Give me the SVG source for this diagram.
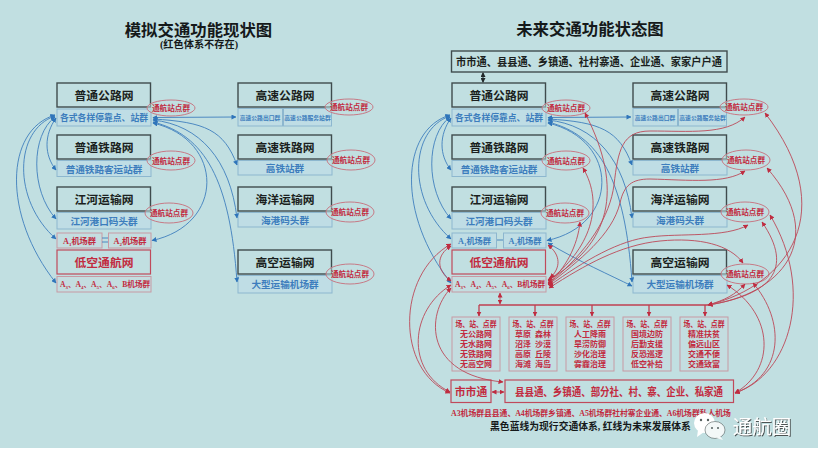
<svg xmlns="http://www.w3.org/2000/svg" width="818" height="463" viewBox="0 0 818 463">
<style>
text{font-family:"Liberation Serif","Noto Sans CJK SC",serif;font-weight:700;text-anchor:middle}
.k{fill:none;stroke:#3f4b4d;stroke-width:1.4}
.bb{fill:#bfdde5;stroke:#8db7cf;stroke-width:1}
.rb{fill:#c4dde0;stroke:#c79aa4;stroke-width:1}
.rk{fill:none;stroke:#c04a5b;stroke-width:1.2}
.e{fill:#c2dfe1;fill-opacity:.5;stroke:#c77a86;stroke-width:1}
.tk{fill:#1b1f20;font-size:11.800px}
.tb{fill:#3d7dbd;font-size:9.600px}
.tb2{fill:#3d7dbd;font-size:5.800px}
.tr{fill:#c22b40;font-size:8.200px}
.te{fill:#c22b40;font-size:7.600px}
.tm{fill:#c22b40;font-size:8px}
.s{font-size:5px}
.c{fill:none;stroke-width:.9}
.b{stroke:#3f7fbd}
.r{stroke:#bc4858}
.rr{fill:none;stroke:#bf3f50;stroke-width:1.3}
</style>
<defs>
<marker id="ab" markerWidth="5" markerHeight="5" refX="4.500" refY="2.500" orient="auto-start-reverse" markerUnits="userSpaceOnUse"><path d="M0 0L5 2.500L0 5z" fill="#2f75ba"/></marker>
<marker id="ar" markerWidth="5" markerHeight="5" refX="4.500" refY="2.500" orient="auto-start-reverse" markerUnits="userSpaceOnUse"><path d="M0 0L5 2.500L0 5z" fill="#bf2c40"/></marker>
<marker id="ak" markerWidth="5" markerHeight="5" refX="4" refY="2.500" orient="auto-start-reverse" markerUnits="userSpaceOnUse"><path d="M0 0L5 2.500L0 5z" fill="#22282a"/></marker>
<filter id="sh" x="-10%" y="-10%" width="125%" height="125%"><feDropShadow dx="1" dy="1" stdDeviation=".5" flood-color="#333" flood-opacity=".8"/></filter>
</defs>
<rect width="818" height="463" fill="#fff"/>
<rect width="818" height="448" fill="#c1dfe1"/>

<text x="198.500" y="36" font-size="16.400" fill="#15191a">模拟交通功能现状图</text>
<text x="199" y="48" font-size="10.200" fill="#15191a">(红色体系不存在)</text>
<text x="590" y="35" font-size="16.400" fill="#15191a">未来交通功能状态图</text>

<g id="left-nodes">
<g id="l-road"><rect class="k" x="57" y="83" width="93.500" height="24"/><text class="tk" x="104" y="99.500">普通公路网</text><rect class="bb" x="57" y="109" width="94" height="17"/><text class="tb" x="104" y="121" style="font-size:9.200px" textLength="88" lengthAdjust="spacingAndGlyphs">各式各样停靠点、站群</text></g>
<g id="l-rail"><rect class="k" x="57" y="135" width="93.500" height="24"/><text class="tk" x="104" y="151.500">普通铁路网</text><rect class="bb" x="57" y="160.500" width="94" height="16"/><text class="tb" x="104" y="172.500">普通铁路客运站群</text></g>
<g id="l-river"><rect class="k" x="57" y="187" width="93.500" height="24"/><text class="tk" x="104" y="203.500">江河运输网</text><rect class="bb" x="57" y="212.500" width="94" height="16.500"/><text class="tb" x="104" y="224.500">江河港口码头群</text></g>
<g id="l-a1"><rect class="rb" x="57" y="233" width="45" height="15"/><text class="tr" x="79.500" y="243.500">A<tspan class="s" dy="2">1</tspan><tspan dy="-2">机场群</tspan></text></g>
<g id="l-a2"><rect class="rb" x="108.500" y="233" width="42.500" height="15"/><text class="tr" x="130" y="243.500">A<tspan class="s" dy="2">2</tspan><tspan dy="-2">机场群</tspan></text></g>
<g id="l-low"><rect class="rk" x="57" y="250" width="93.500" height="24"/><text class="tk" x="104" y="266.500" style="fill:#c22b40">低空通航网</text></g>
<g id="l-a3"><rect class="rb" x="57" y="276.500" width="94" height="15.500"/><text class="tr" x="105" y="287" style="font-size:7.600px">A<tspan class="s" dy="2">3</tspan><tspan dy="-2">、A</tspan><tspan class="s" dy="2">4</tspan><tspan dy="-2">、A</tspan><tspan class="s" dy="2">5</tspan><tspan dy="-2">、A</tspan><tspan class="s" dy="2">6</tspan><tspan dy="-2">、B机场群</tspan></text></g>
<g id="l-hw"><rect class="k" x="238" y="83" width="93.500" height="24"/><text class="tk" x="285" y="99.500">高速公路网</text><rect class="bb" x="238" y="108.500" width="44.500" height="17.500"/><rect class="bb" x="283.500" y="108.500" width="48" height="17.500"/><text class="tb2" x="260" y="119.500">高速公路出口群</text><text class="tb2" x="307.500" y="119.500">高速公路服务站群</text></g>
<g id="l-hr"><rect class="k" x="238" y="135" width="93.500" height="24"/><text class="tk" x="285" y="151.500">高速铁路网</text><rect class="bb" x="238" y="160.500" width="94" height="14.500"/><text class="tb" x="285" y="171.500">高铁站群</text></g>
<g id="l-sea"><rect class="k" x="238" y="187" width="93.500" height="24"/><text class="tk" x="285" y="203.500">海洋运输网</text><rect class="bb" x="238" y="212.500" width="94" height="14.500"/><text class="tb" x="285" y="223.500">海港码头群</text></g>
<g id="l-air"><rect class="k" x="238" y="250" width="93.500" height="24"/><text class="tk" x="285" y="266.500">高空运输网</text><rect class="bb" x="238" y="275.500" width="94" height="17.500"/><text class="tb" x="285" y="288">大型运输机场群</text></g>
<g id="l-e1"><ellipse class="e" cx="171" cy="108" rx="24" ry="8"/><text class="te" x="171" y="110.500">通航站点群</text></g>
<g id="l-e2"><ellipse class="e" cx="171" cy="160.500" rx="24" ry="9.500"/><text class="te" x="171" y="163.500">通航站点群</text></g>
<g id="l-e3"><ellipse class="e" cx="169" cy="213" rx="24" ry="10"/><text class="te" x="169" y="215.500">通航站点群</text></g>
<g id="l-e4"><ellipse class="e" cx="349" cy="107" rx="24" ry="8"/><text class="te" x="349" y="109.500">通航站点群</text></g>
<g id="l-e5"><ellipse class="e" cx="351" cy="160" rx="24" ry="10"/><text class="te" x="351" y="163">通航站点群</text></g>
<g id="l-e6"><ellipse class="e" cx="350" cy="212" rx="24" ry="10"/><text class="te" x="350" y="215">通航站点群</text></g>
<g id="l-e7"><ellipse class="e" cx="350" cy="274" rx="24" ry="10"/><text class="te" x="350" y="277">通航站点群</text></g>
</g>

<g id="right-nodes">
<g id="r-top"><rect class="k" x="451.500" y="51" width="275.500" height="21"/><text class="tk" x="589" y="65.500" style="font-size:10.800px" textLength="266" lengthAdjust="spacingAndGlyphs">市市通、县县通、乡镇通、社村寨通、企业通、家家户户通</text></g>
<g id="r-road"><rect class="k" x="452" y="83" width="93.500" height="24"/><text class="tk" x="499" y="99.500">普通公路网</text><rect class="bb" x="452" y="109" width="94" height="17"/><text class="tb" x="499" y="121" style="font-size:9.200px" textLength="88" lengthAdjust="spacingAndGlyphs">各式各样停靠点、站群</text></g>
<g id="r-rail"><rect class="k" x="452" y="135" width="93.500" height="24"/><text class="tk" x="499" y="151.500">普通铁路网</text><rect class="bb" x="452" y="160.500" width="94" height="16"/><text class="tb" x="499" y="172.500">普通铁路客运站群</text></g>
<g id="r-river"><rect class="k" x="452" y="187" width="93.500" height="24"/><text class="tk" x="499" y="203.500">江河运输网</text><rect class="bb" x="452" y="212.500" width="94" height="16.500"/><text class="tb" x="499" y="224.500">江河港口码头群</text></g>
<g id="r-a1"><rect class="bb" x="452" y="233" width="44.500" height="15"/><text class="tr" x="474.500" y="243.500" style="fill:#3d7dbd">A<tspan class="s" dy="2">1</tspan><tspan dy="-2">机场群</tspan></text></g>
<g id="r-a2"><rect class="bb" x="503.500" y="233" width="42.500" height="15"/><text class="tr" x="525" y="243.500" style="fill:#3d7dbd">A<tspan class="s" dy="2">2</tspan><tspan dy="-2">机场群</tspan></text></g>
<g id="r-low"><rect class="rk" x="452" y="250" width="93.500" height="24"/><text class="tk" x="499" y="266.500" style="fill:#c22b40">低空通航网</text></g>
<g id="r-a3"><rect class="rb" x="452" y="276.500" width="94" height="15.500"/><text class="tr" x="500" y="287" style="font-size:7.600px">A<tspan class="s" dy="2">3</tspan><tspan dy="-2">、A</tspan><tspan class="s" dy="2">4</tspan><tspan dy="-2">、A</tspan><tspan class="s" dy="2">5</tspan><tspan dy="-2">、A</tspan><tspan class="s" dy="2">6</tspan><tspan dy="-2">、B机场群</tspan></text></g>
<g id="r-hw"><rect class="k" x="633" y="83" width="93.500" height="24"/><text class="tk" x="680" y="99.500">高速公路网</text><rect class="bb" x="633" y="108.500" width="44.500" height="17.500"/><rect class="bb" x="678.500" y="108.500" width="48" height="17.500"/><text class="tb2" x="655" y="119.500">高速公路出口群</text><text class="tb2" x="702.500" y="119.500">高速公路服务站群</text></g>
<g id="r-hr"><rect class="k" x="633" y="135" width="93.500" height="24"/><text class="tk" x="680" y="151.500">高速铁路网</text><rect class="bb" x="633" y="160.500" width="94" height="14.500"/><text class="tb" x="680" y="171.500">高铁站群</text></g>
<g id="r-sea"><rect class="k" x="633" y="187" width="93.500" height="24"/><text class="tk" x="680" y="203.500">海洋运输网</text><rect class="bb" x="633" y="212.500" width="94" height="14.500"/><text class="tb" x="680" y="223.500">海港码头群</text></g>
<g id="r-air"><rect class="k" x="633" y="250" width="93.500" height="24"/><text class="tk" x="680" y="266.500">高空运输网</text><rect class="bb" x="633" y="275.500" width="94" height="17.500"/><text class="tb" x="680" y="288">大型运输机场群</text></g>
<g id="r-e1"><ellipse class="e" cx="566" cy="108" rx="24" ry="8"/><text class="te" x="566" y="110.500">通航站点群</text></g>
<g id="r-e2"><ellipse class="e" cx="566" cy="160.500" rx="24" ry="9.500"/><text class="te" x="566" y="163.500">通航站点群</text></g>
<g id="r-e3"><ellipse class="e" cx="565" cy="213" rx="24" ry="10"/><text class="te" x="565" y="215.500">通航站点群</text></g>
<g id="r-e4"><ellipse class="e" cx="744" cy="107" rx="24" ry="8"/><text class="te" x="744" y="109.500">通航站点群</text></g>
<g id="r-e5"><ellipse class="e" cx="746" cy="160" rx="24" ry="10"/><text class="te" x="746" y="163">通航站点群</text></g>
<g id="r-e6"><ellipse class="e" cx="745" cy="212" rx="24" ry="10"/><text class="te" x="745" y="215">通航站点群</text></g>
<g id="r-e7"><ellipse class="e" cx="745" cy="274" rx="24" ry="10"/><text class="te" x="745" y="277">通航站点群</text></g>

<g id="r-b1"><rect class="rb" x="452" y="317" width="48" height="54"/><text class="tm" x="476" y="327" textLength="41" lengthAdjust="spacingAndGlyphs">场、站、点群</text><text class="tm" x="476" y="337">无公路网</text><text class="tm" x="476" y="347">无水路网</text><text class="tm" x="476" y="357">无铁路网</text><text class="tm" x="476" y="367">无高空网</text></g>
<g id="r-b2"><rect class="rb" x="509" y="317" width="48" height="54"/><text class="tm" x="533" y="327" textLength="41" lengthAdjust="spacingAndGlyphs">场、站、点群</text><text class="tm" x="533" y="337" xml:space="preserve">草原  森林</text><text class="tm" x="533" y="347" xml:space="preserve">沼泽  沙漠</text><text class="tm" x="533" y="357" xml:space="preserve">高原  丘陵</text><text class="tm" x="533" y="367" xml:space="preserve">海滩  海岛</text></g>
<g id="r-b3"><rect class="rb" x="566" y="317" width="48" height="54"/><text class="tm" x="590" y="327" textLength="41" lengthAdjust="spacingAndGlyphs">场、站、点群</text><text class="tm" x="590" y="337">人工降雨</text><text class="tm" x="590" y="347">旱涝防御</text><text class="tm" x="590" y="357">沙化治理</text><text class="tm" x="590" y="367">雾霾治理</text></g>
<g id="r-b4"><rect class="rb" x="623" y="317" width="48" height="54"/><text class="tm" x="647" y="327" textLength="41" lengthAdjust="spacingAndGlyphs">场、站、点群</text><text class="tm" x="647" y="337">国境边防</text><text class="tm" x="647" y="347">后勤支援</text><text class="tm" x="647" y="357">反恐巡逻</text><text class="tm" x="647" y="367">低空补给</text></g>
<g id="r-b5"><rect class="rb" x="680" y="317" width="48" height="54"/><text class="tm" x="704" y="327" textLength="41" lengthAdjust="spacingAndGlyphs">场、站、点群</text><text class="tm" x="704" y="337">精准扶贫</text><text class="tm" x="704" y="347">偏远山区</text><text class="tm" x="704" y="357">交通不便</text><text class="tm" x="704" y="367">交通致富</text></g>
<g id="r-city"><rect class="rk" x="451" y="380" width="40" height="22.500"/><text class="tk" x="471" y="395.500" style="fill:#c22b40;font-size:10.800px">市市通</text></g>
<g id="r-county"><rect class="rk" x="505" y="380" width="228.500" height="22.500"/><text class="tk" x="619" y="395.500" style="fill:#c22b40;font-size:10.800px" textLength="208" lengthAdjust="spacingAndGlyphs">县县通、乡镇通、部分社、村、寨、企业、私家通</text></g>
</g>

<g id="connectors">
<g id="left-connectors">
<path class="c b" marker-start="url(#ab)" marker-end="url(#ab)" d="M153 117.500L236 117"/>
<path class="c b" marker-start="url(#ab)" marker-end="url(#ab)" d="M56 118C44 135 44 155 56 170"/>
<path class="c b" marker-start="url(#ab)" marker-end="url(#ab)" d="M55 117C31 135 30 190 56 219"/>
<path class="c b" marker-start="url(#ab)" marker-end="url(#ab)" d="M55 116C14 130 12 200 56 239"/>
<path class="c b" marker-start="url(#ab)" marker-end="url(#ab)" d="M55 115C5 130 2 215 56 283"/>
<path class="c b" marker-start="url(#ab)" marker-end="url(#ab)" d="M153 123C225 140 225 225 152 240.500"/>
<path class="c b" marker-start="url(#ab)" marker-end="url(#ab)" d="M153 119C205 122 224 130 237 165"/>
<path class="c b" marker-start="url(#ab)" marker-end="url(#ab)" d="M153 120C200 125 230 160 237 218"/>
<path class="c b" marker-start="url(#ab)" marker-end="url(#ab)" d="M153 122C205 135 230 180 237 282"/>
<path class="c b" d="M102 238H108M102 242H108"/>
</g>
<g id="right-connectors-blue">
<path class="c b" marker-start="url(#ab)" marker-end="url(#ab)" d="M548 117.500L631 117"/>
<path class="c b" marker-start="url(#ab)" marker-end="url(#ab)" d="M451 118C439 135 439 155 451 170"/>
<path class="c b" marker-start="url(#ab)" marker-end="url(#ab)" d="M450 117C426 135 425 190 451 219"/>
<path class="c b" marker-start="url(#ab)" marker-end="url(#ab)" d="M450 116C409 130 407 200 451 239"/>
<path class="c b" marker-start="url(#ab)" marker-end="url(#ab)" d="M450 115C400 130 397 215 451 283"/>
<path class="c b" marker-start="url(#ab)" marker-end="url(#ab)" d="M548 123C620 140 620 225 547 240.500"/>
<path class="c b" marker-start="url(#ab)" marker-end="url(#ab)" d="M548 119C600 122 619 130 632 165"/>
<path class="c b" marker-start="url(#ab)" marker-end="url(#ab)" d="M548 120C595 125 625 160 632 218"/>
<path class="c b" marker-start="url(#ab)" marker-end="url(#ab)" d="M548 122C600 135 625 180 632 282"/>
<path class="c b" marker-start="url(#ab)" marker-end="url(#ab)" d="M548 243C580 262 610 275 632 286"/>
<path class="c b" d="M497 240H503"/>
</g>
<g id="right-connectors-red">
<path class="c r" marker-start="url(#ar)" marker-end="url(#ar)" d="M548 280C610 245 625 190 585 113"/>
<path class="c r" marker-start="url(#ar)" marker-end="url(#ar)" d="M548 281C590 250 605 205 583 168"/>
<path class="c r" marker-start="url(#ar)" marker-end="url(#ar)" d="M548 283C565 270 578 245 580 222"/>
<path class="c r" marker-start="url(#ar)" marker-end="url(#ar)" d="M548 284C590 250 610 215 614 185C618 150 622 131 650 131C690 131 725 135 745 117"/>
<path class="c r" marker-start="url(#ar)" marker-end="url(#ar)" d="M548 285C580 260 612 235 620 203C624 185 632 179 650 179C690 180 725 184 745 171"/>
<path class="c r" marker-start="url(#ar)" marker-end="url(#ar)" d="M549 286C585 260 620 240 650 237C680 233 725 238 748 225"/>
<path class="c r" marker-start="url(#ar)" marker-end="url(#ar)" d="M549 288C585 265 620 245 660 241C700 237 730 245 743 263"/>
<path class="c r" marker-start="url(#ar)" marker-end="url(#ar)" d="M550 278C561 268 561 255 548 245"/>
<path class="c r" marker-start="url(#ar)" marker-end="url(#ar)" d="M451 281C436 270 436 255 451 246"/>
<path class="c r" marker-start="url(#ar)" marker-end="url(#ar)" d="M451 244C396 275 396 370 450 393"/>
<path class="c r" marker-start="url(#ar)" marker-end="url(#ar)" d="M451 285C410 310 405 370 450 392"/>
<path class="c r" marker-start="url(#ar)" marker-end="url(#ar)" d="M451 288C425 315 425 375 503 382"/>
<path class="c r" marker-start="url(#ar)" marker-end="url(#ar)" d="M708 305C725 300 735 295 745 284"/>
<path class="c r" marker-start="url(#ar)" marker-end="url(#ar)" d="M708 305C770 295 795 270 762 222"/>
<path class="c r" marker-start="url(#ar)" marker-end="url(#ar)" d="M708 305C780 295 830 240 767 168"/>
<path class="c r" marker-start="url(#ar)" marker-end="url(#ar)" d="M708 305C790 285 840 210 765 113"/>
<path class="c r" marker-start="url(#ar)" marker-end="url(#ar)" d="M735 393C775 370 775 315 727 285"/>
<path class="c r" marker-start="url(#ar)" marker-end="url(#ar)" d="M735 393C785 375 785 320 753 283"/>
<path class="c r" marker-start="url(#ar)" marker-end="url(#ar)" d="M735 393C790 375 815 290 770 215"/>
<path class="rr" d="M479 305H708"/>
<path class="rr" marker-end="url(#ar)" d="M479 305V316"/>
<path class="rr" marker-end="url(#ar)" d="M535 305V316"/>
<path class="rr" marker-end="url(#ar)" d="M592 305V316"/>
<path class="rr" marker-end="url(#ar)" d="M649 305V316"/>
<path class="rr" marker-end="url(#ar)" d="M705 305V316"/>
<path class="c r" marker-start="url(#ar)" marker-end="url(#ar)" d="M500 293V304"/>
<path class="c r" marker-start="url(#ar)" marker-end="url(#ar)" d="M492 392H504"/>
<path fill="none" stroke="#22282a" marker-start="url(#ak)" marker-end="url(#ak)" d="M483 73V82"/>
</g>
</g>

<text x="591" y="416" font-size="7.800" fill="#c22b40" id="note-red">A3机场群县县通、A4机场群乡镇通、A5机场群社村寨企业通、A6机场群私人机场</text>
<text x="590.500" y="430" font-size="9.800" fill="#15191a" id="note-black">黑色蓝线为现行交通体系, 红线为未来发展体系</text>

<g id="watermark">
<ellipse cx="704.500" cy="423" rx="10.500" ry="10" fill="#fff"/>
<path d="M698 430L697 437L704 432z" fill="#fff"/>
<ellipse cx="715" cy="430" rx="10" ry="8.500" fill="#f3f8f8" stroke="#55605f" stroke-width=".6"/>
<path d="M720 436L723 440L716 438z" fill="#f3f8f8"/>
<circle cx="701" cy="420" r="1.200" fill="#55605f"/><circle cx="708" cy="420" r="1.200" fill="#55605f"/>
<circle cx="712" cy="428" r="1" fill="#55605f"/><circle cx="718" cy="428" r="1" fill="#55605f"/>
<text x="762" y="434" font-size="19.500" fill="#fff" filter="url(#sh)" style="font-family:'Noto Sans CJK SC',sans-serif;font-weight:400">通航圈</text>
</g>
</svg>
